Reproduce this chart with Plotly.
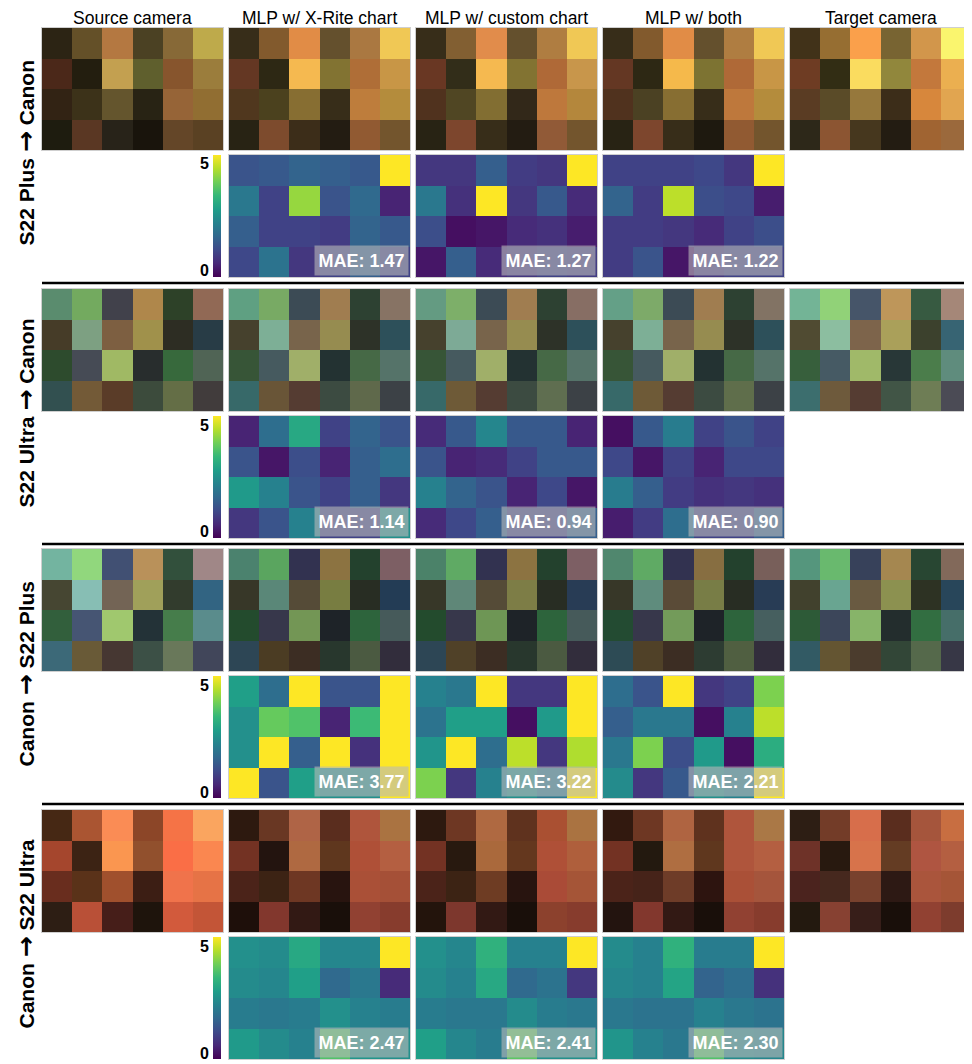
import plotly.graph_objects as go

W, H = 972, 1064

columns = ["Source camera", "MLP w/ X-Rite chart", "MLP w/ custom chart", "MLP w/ both", "Target camera"]
sources = ["S22 Plus", "S22 Ultra", "Canon", "Canon"]
targets = ["Canon", "Canon", "S22 Plus", "S22 Ultra"]
mae = [[1.47, 1.27, 1.22], [1.14, 0.94, 0.90], [3.77, 3.22, 2.21], [2.47, 2.41, 2.30]]

# ---- S22 Plus -> Canon : patch colours (4 rows x 6 patches) ----
plus_canon_source = [
    [(44, 36, 20), (100, 80, 40), (180, 120, 65), (75, 65, 35), (135, 105, 55), (190, 170, 75)],
    [(75, 40, 25), (35, 30, 15), (195, 160, 80), (95, 95, 45), (135, 85, 45), (155, 125, 60)],
    [(50, 35, 20), (60, 50, 25), (100, 85, 45), (40, 35, 20), (150, 100, 55), (145, 110, 50)],
    [(30, 28, 15), (90, 55, 35), (40, 35, 25), (25, 20, 12), (100, 70, 40), (90, 65, 35)],
]
plus_canon_xrite = [
    [(55, 45, 25), (130, 90, 45), (225, 140, 70), (100, 80, 45), (170, 120, 65), (240, 200, 85)],
    [(100, 55, 35), (45, 40, 20), (245, 185, 80), (130, 115, 50), (175, 110, 55), (200, 150, 70)],
    [(80, 55, 30), (75, 65, 30), (135, 110, 50), (55, 45, 25), (190, 125, 60), (180, 140, 60)],
    [(40, 35, 20), (125, 75, 45), (60, 45, 25), (35, 28, 18), (145, 90, 50), (115, 85, 45)],
]
plus_canon_custom = [
    [(55, 45, 25), (130, 95, 50), (225, 140, 75), (100, 80, 45), (175, 125, 65), (240, 200, 85)],
    [(105, 55, 35), (50, 45, 25), (245, 185, 80), (130, 115, 50), (175, 105, 55), (200, 150, 75)],
    [(80, 50, 30), (80, 70, 35), (130, 110, 50), (50, 40, 25), (190, 120, 60), (180, 135, 60)],
    [(40, 35, 20), (125, 70, 45), (55, 45, 25), (35, 28, 18), (145, 90, 55), (115, 85, 45)],
]
plus_canon_both = [
    [(55, 45, 25), (130, 90, 45), (225, 140, 70), (100, 80, 45), (175, 125, 65), (240, 200, 85)],
    [(100, 55, 35), (45, 40, 20), (245, 185, 75), (125, 115, 50), (175, 105, 55), (200, 150, 70)],
    [(80, 50, 30), (75, 65, 35), (135, 110, 50), (55, 45, 25), (190, 120, 60), (180, 140, 60)],
    [(40, 35, 20), (125, 70, 45), (55, 45, 25), (30, 25, 15), (145, 90, 50), (115, 85, 45)],
]
plus_canon_target = [
    [(65, 50, 25), (150, 110, 50), (250, 160, 75), (120, 100, 50), (210, 150, 75), (250, 245, 110)],
    [(110, 60, 35), (50, 45, 20), (250, 220, 95), (145, 135, 60), (195, 120, 60), (235, 175, 80)],
    [(90, 60, 35), (90, 75, 40), (150, 120, 60), (60, 45, 25), (215, 135, 60), (225, 165, 80)],
    [(45, 40, 25), (140, 85, 50), (70, 55, 30), (35, 28, 18), (160, 100, 50), (155, 105, 60)],
]

# ---- S22 Ultra -> Canon ----
ultra_canon_source = [
    [(90, 140, 110), (115, 170, 95), (65, 65, 75), (175, 135, 75), (45, 65, 40), (145, 105, 85)],
    [(70, 60, 40), (125, 160, 130), (125, 95, 65), (160, 145, 75), (45, 45, 35), (40, 60, 70)],
    [(45, 75, 45), (70, 75, 85), (160, 185, 100), (40, 45, 45), (55, 105, 60), (80, 100, 85)],
    [(50, 80, 80), (115, 90, 55), (90, 60, 40), (60, 75, 60), (100, 110, 70), (65, 60, 60)],
]
ultra_canon_xrite = [
    [(95, 160, 130), (120, 170, 100), (60, 75, 85), (160, 125, 80), (45, 65, 50), (135, 115, 100)],
    [(70, 65, 45), (125, 175, 150), (120, 100, 75), (150, 140, 80), (45, 50, 40), (45, 80, 90)],
    [(55, 85, 55), (70, 90, 95), (160, 175, 105), (35, 50, 50), (70, 105, 70), (85, 115, 105)],
    [(55, 105, 105), (105, 85, 55), (85, 60, 50), (60, 75, 65), (95, 105, 75), (60, 65, 70)],
]
ultra_canon_custom = [
    [(100, 155, 130), (125, 175, 105), (60, 75, 85), (160, 125, 80), (45, 65, 50), (135, 110, 100)],
    [(70, 65, 45), (125, 170, 150), (120, 100, 75), (150, 140, 80), (45, 50, 40), (45, 80, 90)],
    [(55, 85, 55), (70, 90, 95), (160, 175, 105), (35, 50, 50), (70, 105, 70), (85, 115, 105)],
    [(55, 105, 105), (110, 90, 55), (85, 60, 50), (60, 75, 65), (95, 110, 80), (60, 65, 70)],
]
ultra_canon_both = [
    [(100, 160, 135), (125, 170, 105), (60, 75, 85), (160, 125, 80), (45, 65, 50), (130, 115, 100)],
    [(70, 65, 45), (125, 175, 150), (120, 100, 75), (150, 140, 80), (45, 50, 40), (45, 80, 90)],
    [(55, 85, 55), (70, 90, 95), (160, 175, 105), (35, 50, 50), (70, 105, 70), (85, 115, 105)],
    [(55, 105, 105), (110, 90, 55), (85, 60, 50), (60, 75, 65), (95, 110, 75), (60, 65, 70)],
]
ultra_canon_target = [
    [(115, 180, 150), (145, 210, 120), (70, 85, 105), (190, 150, 90), (55, 90, 65), (165, 135, 120)],
    [(80, 75, 50), (140, 190, 160), (125, 100, 75), (170, 160, 90), (60, 65, 45), (55, 100, 115)],
    [(55, 95, 60), (70, 90, 100), (160, 185, 105), (40, 55, 55), (75, 125, 75), (95, 140, 125)],
    [(60, 110, 110), (110, 90, 60), (85, 60, 50), (65, 85, 70), (110, 125, 85), (75, 75, 85)],
]

# ---- Canon -> S22 Plus ----
canon_plus_source = [
    [(115, 180, 160), (145, 215, 125), (65, 80, 115), (185, 145, 90), (50, 80, 60), (160, 135, 135)],
    [(70, 70, 50), (135, 190, 180), (115, 100, 85), (160, 160, 90), (50, 60, 45), (50, 100, 130)],
    [(50, 95, 60), (70, 85, 115), (160, 200, 110), (35, 50, 55), (70, 125, 75), (90, 140, 140)],
    [(60, 105, 120), (105, 90, 55), (70, 55, 50), (60, 80, 70), (105, 120, 90), (65, 70, 90)],
]
canon_plus_xrite = [
    [(75, 130, 110), (90, 165, 95), (50, 50, 80), (140, 115, 65), (35, 65, 45), (125, 95, 100)],
    [(55, 55, 40), (90, 135, 120), (85, 75, 55), (120, 125, 65), (40, 45, 35), (35, 60, 85)],
    [(35, 75, 45), (55, 55, 75), (115, 150, 85), (30, 35, 40), (45, 100, 60), (70, 90, 90)],
    [(45, 70, 85), (75, 60, 35), (60, 45, 35), (40, 55, 45), (75, 90, 65), (50, 45, 60)],
]
canon_plus_custom = [
    [(75, 130, 105), (95, 170, 100), (50, 50, 80), (140, 115, 65), (35, 65, 45), (125, 95, 100)],
    [(55, 55, 40), (95, 135, 120), (85, 75, 55), (125, 125, 70), (40, 45, 35), (40, 60, 85)],
    [(35, 75, 45), (55, 55, 75), (110, 150, 85), (30, 35, 40), (45, 100, 60), (70, 90, 90)],
    [(45, 70, 85), (80, 65, 40), (60, 45, 35), (40, 55, 45), (75, 90, 65), (50, 45, 60)],
]
canon_plus_both = [
    [(80, 135, 110), (95, 170, 100), (50, 50, 80), (135, 110, 65), (35, 65, 45), (120, 95, 90)],
    [(55, 55, 40), (95, 140, 125), (90, 75, 55), (120, 125, 70), (40, 45, 35), (40, 60, 85)],
    [(35, 75, 50), (55, 55, 75), (115, 155, 90), (30, 35, 40), (45, 100, 60), (70, 95, 95)],
    [(45, 75, 85), (80, 65, 40), (60, 45, 35), (45, 60, 50), (80, 95, 65), (50, 45, 60)],
]
canon_plus_target = [
    [(85, 150, 125), (105, 185, 110), (55, 65, 90), (165, 135, 80), (40, 70, 50), (130, 105, 90)],
    [(65, 65, 45), (105, 165, 145), (105, 90, 65), (140, 145, 80), (45, 50, 35), (40, 70, 90)],
    [(45, 90, 55), (60, 70, 90), (135, 180, 105), (35, 45, 45), (50, 110, 65), (70, 110, 105)],
    [(50, 90, 100), (100, 85, 50), (75, 60, 45), (50, 70, 55), (85, 105, 75), (55, 55, 70)],
]

# ---- Canon -> S22 Ultra ----
canon_ultra_source = [
    [(70, 40, 20), (170, 85, 50), (250, 140, 85), (140, 70, 40), (245, 115, 70), (250, 165, 95)],
    [(165, 70, 45), (60, 35, 20), (250, 150, 80), (145, 80, 45), (250, 110, 70), (250, 135, 80)],
    [(105, 45, 30), (90, 50, 25), (160, 80, 45), (60, 30, 20), (240, 115, 75), (230, 115, 70)],
    [(45, 30, 20), (185, 80, 55), (70, 30, 25), (30, 20, 12), (210, 90, 60), (195, 85, 55)],
]
canon_ultra_xrite = [
    [(45, 25, 15), (105, 55, 35), (175, 100, 70), (90, 45, 30), (175, 85, 60), (170, 115, 65)],
    [(115, 50, 35), (35, 20, 15), (175, 105, 65), (95, 55, 30), (175, 80, 55), (180, 95, 65)],
    [(75, 35, 25), (60, 35, 20), (110, 55, 35), (40, 20, 15), (170, 80, 55), (165, 80, 55)],
    [(30, 15, 10), (130, 55, 45), (50, 25, 20), (25, 15, 10), (145, 65, 50), (135, 60, 45)],
]
canon_ultra_custom = [
    [(45, 25, 15), (110, 55, 35), (175, 105, 65), (95, 50, 30), (170, 80, 50), (170, 115, 65)],
    [(115, 50, 35), (40, 25, 15), (170, 105, 60), (100, 55, 30), (175, 80, 55), (175, 95, 60)],
    [(75, 35, 25), (60, 35, 20), (110, 60, 35), (40, 20, 15), (170, 75, 55), (165, 85, 55)],
    [(35, 20, 12), (125, 55, 45), (50, 25, 20), (25, 15, 10), (140, 65, 45), (135, 60, 45)],
]
canon_ultra_both = [
    [(50, 25, 15), (110, 55, 35), (175, 100, 65), (95, 50, 30), (175, 85, 60), (170, 120, 70)],
    [(115, 50, 35), (35, 25, 15), (175, 110, 65), (95, 55, 30), (175, 85, 60), (180, 95, 65)],
    [(75, 35, 25), (70, 35, 25), (110, 60, 40), (45, 20, 15), (170, 80, 55), (165, 85, 60)],
    [(35, 20, 15), (130, 55, 45), (50, 25, 20), (25, 15, 10), (145, 65, 50), (135, 60, 45)],
]
canon_ultra_target = [
    [(45, 30, 20), (115, 60, 40), (215, 110, 75), (90, 45, 30), (165, 85, 60), (200, 110, 65)],
    [(110, 50, 40), (40, 25, 15), (215, 115, 75), (100, 60, 35), (175, 85, 65), (180, 95, 65)],
    [(75, 35, 30), (70, 40, 30), (120, 65, 45), (45, 25, 20), (170, 85, 60), (165, 85, 55)],
    [(35, 25, 15), (135, 65, 50), (55, 30, 25), (25, 15, 10), (145, 65, 50), (125, 60, 45)],
]

# ---- per-patch errors (0-5 scale) ----
plus_canon_err_xrite = [[1.3, 1.4, 1.6, 1.5, 1.4, 5.0], [2.0, 1.0, 4.2, 1.3, 1.7, 0.5],
                        [1.5, 1.0, 1.0, 0.9, 1.6, 1.4], [1.1, 1.9, 0.8, 1.0, 1.5, 1.0]]
plus_canon_err_custom = [[0.8, 0.8, 1.5, 0.9, 0.8, 5.0], [2.0, 0.7, 5.0, 0.8, 1.4, 0.6],
                         [1.2, 0.2, 0.3, 0.6, 0.7, 0.4], [0.3, 1.5, 0.6, 0.8, 1.0, 0.9]]
plus_canon_err_both = [[1.0, 1.0, 1.0, 1.1, 0.8, 5.0], [1.6, 0.9, 4.5, 1.2, 1.1, 0.4],
                       [0.9, 0.9, 0.8, 0.6, 1.0, 1.2], [0.9, 1.3, 0.3, 0.8, 1.0, 1.0]]
ultra_canon_err_xrite = [[0.5, 1.8, 3.0, 1.0, 1.6, 1.3], [1.3, 0.3, 1.2, 0.5, 1.5, 1.8],
                         [2.7, 2.2, 1.3, 1.0, 1.5, 0.8], [0.8, 1.3, 2.2, 1.0, 1.0, 2.5]]
ultra_canon_err_custom = [[0.6, 1.4, 2.3, 1.4, 1.4, 0.5], [1.3, 0.5, 0.6, 1.0, 1.4, 1.4],
                          [2.2, 1.6, 1.3, 0.5, 1.1, 0.3], [0.6, 1.1, 1.5, 1.0, 1.0, 1.5]]
ultra_canon_err_both = [[0.2, 1.4, 2.1, 1.0, 1.3, 1.0], [1.1, 0.3, 1.0, 0.5, 1.1, 1.1],
                        [2.1, 1.5, 0.9, 0.7, 0.8, 0.7], [0.4, 0.9, 1.8, 1.0, 1.0, 1.5]]
canon_plus_err_xrite = [[2.8, 1.8, 5.0, 1.3, 1.3, 5.0], [2.5, 3.8, 3.6, 0.5, 3.4, 5.0],
                        [2.5, 5.0, 1.5, 5.0, 0.7, 5.0], [5.0, 1.3, 2.8, 2.5, 2.5, 5.0]]
canon_plus_err_custom = [[2.2, 2.0, 5.0, 0.8, 0.8, 5.0], [1.9, 2.8, 2.8, 0.2, 2.7, 5.0],
                         [2.6, 5.0, 1.8, 4.5, 0.8, 4.4], [4.0, 0.8, 2.2, 2.5, 2.0, 5.0]]
canon_plus_err_both = [[1.8, 1.3, 5.0, 0.8, 1.0, 4.0], [1.5, 2.0, 2.0, 0.2, 2.2, 4.5],
                       [2.0, 4.0, 1.2, 2.7, 0.2, 3.1], [2.4, 0.8, 1.4, 2.5, 2.2, 5.0]]
canon_ultra_err_xrite = [[2.5, 2.4, 3.0, 2.3, 2.3, 5.0], [2.4, 2.3, 2.8, 1.7, 2.0, 0.6],
                         [2.1, 2.0, 2.1, 2.5, 2.2, 2.1], [2.7, 2.4, 2.2, 3.6, 2.6, 2.5]]
canon_ultra_err_custom = [[2.5, 2.3, 3.2, 2.2, 2.2, 5.0], [2.4, 2.2, 3.0, 1.7, 1.9, 0.8],
                          [2.1, 2.0, 2.0, 2.4, 2.1, 2.0], [2.8, 2.3, 2.1, 3.7, 2.5, 2.5]]
canon_ultra_err_both = [[2.4, 2.2, 3.2, 2.1, 2.1, 5.0], [2.3, 2.2, 2.9, 1.6, 1.8, 0.7],
                        [2.0, 1.9, 1.9, 2.2, 2.0, 1.9], [2.6, 2.2, 2.0, 3.6, 2.4, 2.3]]

patches = [
    [plus_canon_source, plus_canon_xrite, plus_canon_custom, plus_canon_both, plus_canon_target],
    [ultra_canon_source, ultra_canon_xrite, ultra_canon_custom, ultra_canon_both, ultra_canon_target],
    [canon_plus_source, canon_plus_xrite, canon_plus_custom, canon_plus_both, canon_plus_target],
    [canon_ultra_source, canon_ultra_xrite, canon_ultra_custom, canon_ultra_both, canon_ultra_target],
]
errors = [
    [plus_canon_err_xrite, plus_canon_err_custom, plus_canon_err_both],
    [ultra_canon_err_xrite, ultra_canon_err_custom, ultra_canon_err_both],
    [canon_plus_err_xrite, canon_plus_err_custom, canon_plus_err_both],
    [canon_ultra_err_xrite, canon_ultra_err_custom, canon_ultra_err_both],
]

# layout in pixels
col_left = [34, 221, 408, 595, 782]
col_w = 181
block_top = [20, 281, 541, 802]
img_h = 122
hm_off = 127
FONT = "Liberation Sans, Arial, sans-serif"
NARROW = "Liberation Sans Narrow, Arial Narrow, Liberation Sans, Arial, sans-serif"


def px(x):
    return x / W


def py(y):
    return 1 - y / H


fig = go.Figure()
annotations = []
shapes = []
axes = {}
n = 0


def new_axes(x0, y0, w, h):
    global n
    n += 1
    sfx = "" if n == 1 else str(n)
    common = dict(showgrid=False, zeroline=False, showticklabels=False, ticks="",
                  showline=True, mirror=True, linecolor="#cfcfcf", linewidth=1)
    axes["xaxis" + sfx] = dict(domain=[px(x0), px(x0 + w)], range=[-0.5, 5.5],
                               anchor="y" + sfx, **common)
    axes["yaxis" + sfx] = dict(domain=[py(y0 + h), py(y0)], range=[3.5, -0.5],
                               anchor="x" + sfx, scaleanchor=False, **common)
    return "x" + sfx, "y" + sfx


arrow = '<span style="font-family:DejaVu Sans;font-size:25px">→</span>'

for b in range(4):
    top = block_top[b]
    # colour patch images
    for c in range(5):
        xa, ya = new_axes(col_left[c], top, col_w, img_h)
        fig.add_trace(go.Image(z=patches[b][c], xaxis=xa, yaxis=ya, hoverinfo="skip"))
    # error maps
    htop = top + hm_off
    for k in range(3):
        xa, ya = new_axes(col_left[k + 1], htop, col_w, img_h)
        fig.add_trace(go.Heatmap(
            z=errors[b][k], colorscale="Viridis", zmin=0, zmax=5, xaxis=xa, yaxis=ya,
            showscale=(k == 0), hoverinfo="skip",
            colorbar=dict(x=px(205), xanchor="left", xpad=0, ypad=0,
                          y=py(htop + img_h / 2), yanchor="middle",
                          len=img_h, lenmode="pixels", thickness=8, thicknessmode="pixels",
                          outlinewidth=0, showticklabels=False, ticks=""),
        ))
        annotations.append(dict(
            x=px(col_left[k + 1] + col_w - 1), y=py(htop + img_h - 1), xref="paper", yref="paper",
            xanchor="right", yanchor="bottom", text=f"<b>MAE: {mae[b][k]:.2f}</b>",
            showarrow=False, bgcolor="rgba(185,185,185,0.6)", width=89, height=25, borderpad=2,
            font=dict(family=NARROW, size=18, color="white"),
        ))
    # colour bar tick labels
    annotations.append(dict(x=px(203), y=py(htop + 9), xref="paper", yref="paper", xanchor="right",
                            yanchor="middle", text="<b>5</b>", showarrow=False,
                            font=dict(family=FONT, size=16, color="black")))
    annotations.append(dict(x=px(203), y=py(htop + img_h - 6), xref="paper", yref="paper",
                            xanchor="right", yanchor="middle", text="<b>0</b>", showarrow=False,
                            font=dict(family=FONT, size=16, color="black")))
    # row label
    annotations.append(dict(x=px(17), y=py(top + (hm_off + img_h) / 2), xref="paper", yref="paper",
                            xanchor="center", yanchor="middle",
                            text=f"<b>{sources[b]} {arrow} {targets[b]}</b>",
                            textangle=-90, showarrow=False,
                            font=dict(family=FONT, size=21, color="black")))
    # separator
    if b < 3:
        ly = top + hm_off + img_h + 6
        shapes.append(dict(type="line", xref="paper", yref="paper", x0=px(34), x1=px(964),
                           y0=py(ly), y1=py(ly), line=dict(color="black", width=2.5)))

for c, name in enumerate(columns):
    annotations.append(dict(x=px(col_left[c] + col_w / 2), y=py(10), xref="paper", yref="paper",
                            xanchor="center", yanchor="middle", text=name, showarrow=False,
                            font=dict(family=FONT, size=17.5, color="black")))

fig.update_layout(
    width=W, height=H, margin=dict(l=0, r=0, t=0, b=0),
    paper_bgcolor="white", plot_bgcolor="white", showlegend=False,
    annotations=annotations, shapes=shapes, **axes,
)

fig.write_html("out.html")
